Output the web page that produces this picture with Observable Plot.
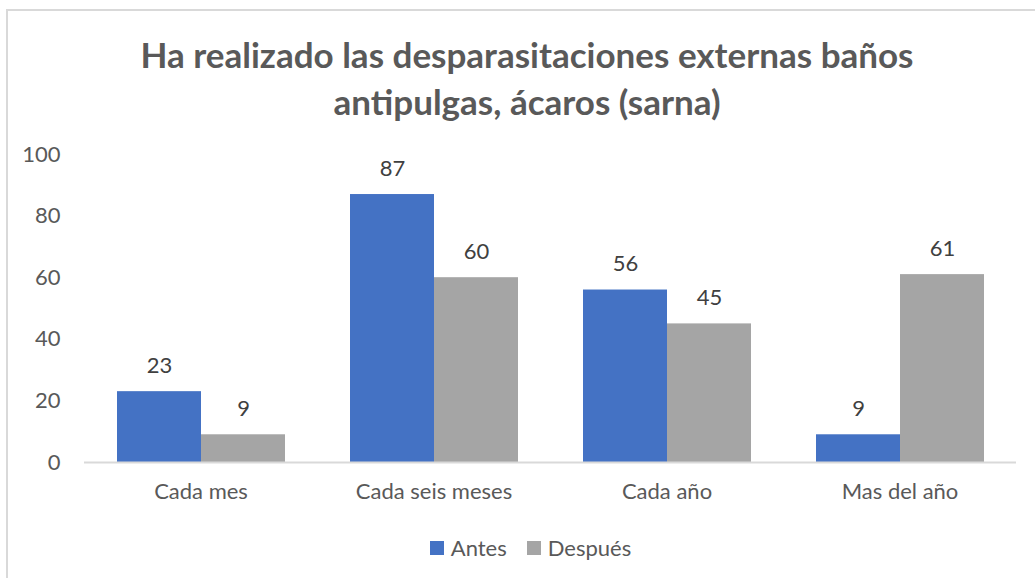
<!DOCTYPE html>
<html>
<head>
<meta charset="utf-8">
<script src="https://cdn.jsdelivr.net/npm/d3@7"></script>
<script src="https://cdn.jsdelivr.net/npm/@observablehq/plot@0.6"></script>
<style>
  html, body { margin: 0; padding: 0; width: 1035px; height: 578px; overflow: hidden; background: #fff; }
  body { position: relative; font-family: Lato, "Open Sans", sans-serif; }
  #frame { position: absolute; left: 6px; top: 9px; width: 1200px; height: 800px; border: 2px solid #d9d9d9; box-sizing: border-box; }
  #title { position: absolute; left: 0; width: 1054px; top: 31px; text-align: center; font-weight: bold; font-size: 35px; line-height: 47px; color: #595959; z-index: 2; }
  #chart { position: absolute; left: 0; top: 0; z-index: 1; }
  #legend { position: absolute; top: 534px; left: 0; width: 1035px; display: flex; justify-content: center; gap: 20px; font-size: 22px; color: #595959; z-index: 2; padding-left: 26px; box-sizing: border-box; }
  .item { display: flex; align-items: center; gap: 7px; }
  .sw { width: 14px; height: 14px; display: inline-block; }
</style>
</head>
<body>
<div id="frame"></div>
<div id="title">Ha realizado las desparasitaciones externas baños<br>antipulgas, ácaros (sarna)</div>
<div id="chart"></div>
<div id="legend"></div>
<script>
const categories = ["Cada mes", "Cada seis meses", "Cada año", "Mas del año"];
const series = ["Antes", "Después"];
const antes = [23, 87, 56, 9];
const despues = [9, 60, 45, 61];
const colors = ["#4472C4", "#A5A5A5"];
const yTicks = [0, 20, 40, 60, 80, 100];

const data = [];
categories.forEach((c, i) => {
  data.push({category: c, series: "Antes", value: antes[i]});
  data.push({category: c, series: "Después", value: despues[i]});
});

const chart = Plot.plot({
  width: 1035,
  height: 578,
  marginLeft: 83,
  marginRight: 19,
  marginTop: 154,
  marginBottom: 116,
  style: {fontFamily: "Lato, 'Open Sans', sans-serif", fontSize: "22px", color: "#595959", background: "transparent", overflow: "visible"},
  fx: {domain: categories, padding: 0, label: null},
  x: {domain: series, paddingInner: 0, paddingOuter: 0.372, axis: null},
  y: {domain: [0, 100], axis: null},
  color: {domain: series, range: colors},
  marks: [
    Plot.axisY({ticks: yTicks, tickSize: 0, tickPadding: 24, label: null, fill: "#595959", fontSize: 22}),
    Plot.axisFx({anchor: "bottom", tickSize: 0, tickPadding: 21, label: null, fill: "#595959", fontSize: 22}),
    Plot.barY(data, {fx: "category", x: "series", y: "value", fill: "series", inset: 0}),
    Plot.ruleY([0], {stroke: "#d9d9d9", strokeWidth: 2}),
    Plot.text(data, {fx: "category", x: "series", y: "value", text: d => String(d.value), dy: -26, fill: "#404040", fontSize: 22})
  ]
});
document.getElementById("chart").appendChild(chart);

const legend = document.getElementById("legend");
series.forEach((s, i) => {
  const item = document.createElement("div");
  item.className = "item";
  const sw = document.createElement("span");
  sw.className = "sw";
  sw.style.background = colors[i];
  const label = document.createElement("span");
  label.textContent = s;
  item.appendChild(sw);
  item.appendChild(label);
  legend.appendChild(item);
});
</script>
</body>
</html>
